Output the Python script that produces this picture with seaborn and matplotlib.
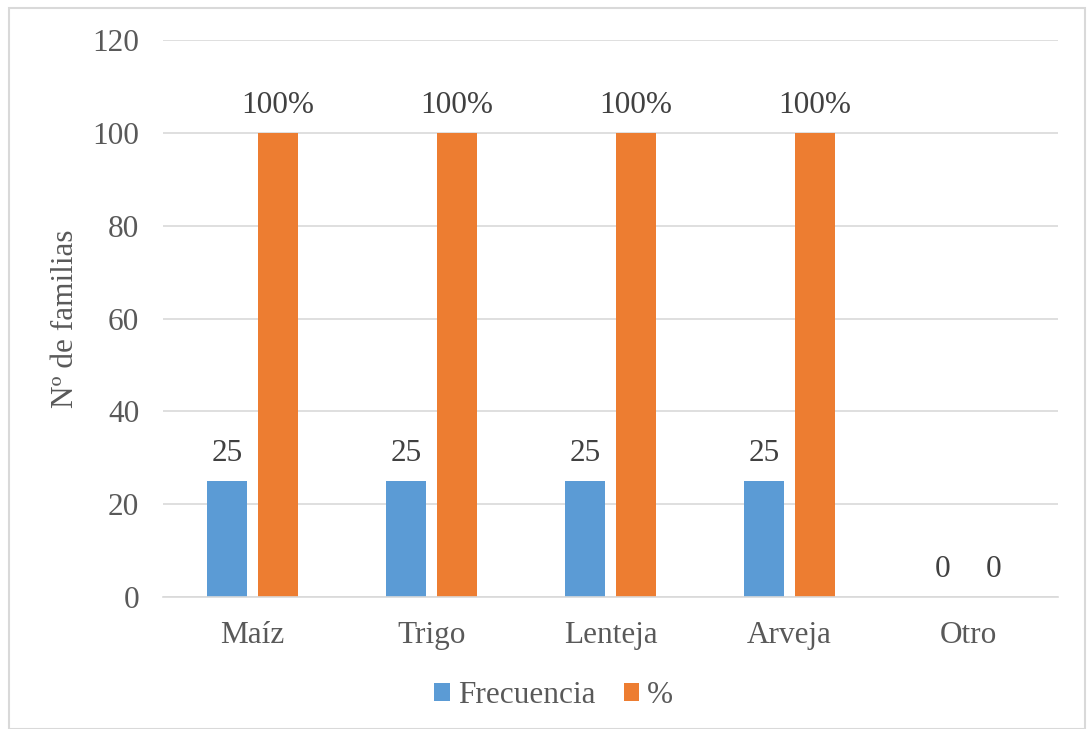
import matplotlib
matplotlib.use("Agg")
import matplotlib.pyplot as plt
import seaborn as sns
import pandas as pd
from matplotlib.patches import Rectangle

categories = ["Maíz", "Trigo", "Lenteja", "Arveja", "Otro"]
frecuencia = [25, 25, 25, 25, 0]
porcentaje = [100, 100, 100, 100, 0]
frec_labels = ["25", "25", "25", "25", "0"]
pct_labels = ["100%", "100%", "100%", "100%", "0"]
series = ["Frecuencia", "%"]
yticks = [0, 20, 40, 60, 80, 100, 120]

df = pd.DataFrame({
    "cat": categories * 2,
    "val": frecuencia + porcentaje,
    "serie": [series[0]] * len(categories) + [series[1]] * len(categories),
})

sns.set_style("white")
plt.rcParams["font.family"] = ["Liberation Serif", "DejaVu Serif"]
text_color = "#595959"
fs = 22.5

fig = plt.figure(figsize=(10.88, 7.29), dpi=100)
ax = fig.add_axes([0.1498, 0.1811, 0.8226, 0.764])

sns.barplot(data=df, x="cat", y="val", hue="serie", order=categories,
            hue_order=series, palette=["#5B9BD5", "#ED7D31"],
            width=0.57, gap=0.22, saturation=1, linewidth=0,
            ax=ax, legend=True)

for cont, labs in zip(ax.containers, [frec_labels, pct_labels]):
    ax.bar_label(cont, labels=labs, padding=9, fontsize=fs, color="#404040")

ax.set_ylim(0, 120)
ax.set_xlim(-0.5, 4.5)
ax.set_yticks(yticks)
ax.yaxis.grid(True, color="#d9d9d9", linewidth=1.2)
ax.set_axisbelow(True)
for s in ["top", "right", "left"]:
    ax.spines[s].set_visible(False)
ax.spines["bottom"].set_color("#d9d9d9")
ax.spines["bottom"].set_linewidth(1.2)
ax.tick_params(axis="both", length=0, labelsize=fs, labelcolor=text_color)
ax.tick_params(axis="y", pad=17)
ax.tick_params(axis="x", pad=17)
ax.set_xlabel("")
ax.set_ylabel("Nº de familias", fontsize=fs, color=text_color, labelpad=9)

handles, labels = ax.get_legend_handles_labels()
ax.legend_.remove()
fig.legend(handles, labels, loc="center", bbox_to_anchor=(0.509, 0.046), ncol=2,
           frameon=False, fontsize=fs, labelcolor=text_color,
           handlelength=0.5, handleheight=0.5, handletextpad=0.25, columnspacing=0.9)

fig.patches.append(Rectangle((9 / 1088, 0), 1076 / 1088, 721 / 729,
                             transform=fig.transFigure, fill=False,
                             edgecolor="#d9d9d9", linewidth=1.5))

fig.savefig("out.png", dpi=100)
